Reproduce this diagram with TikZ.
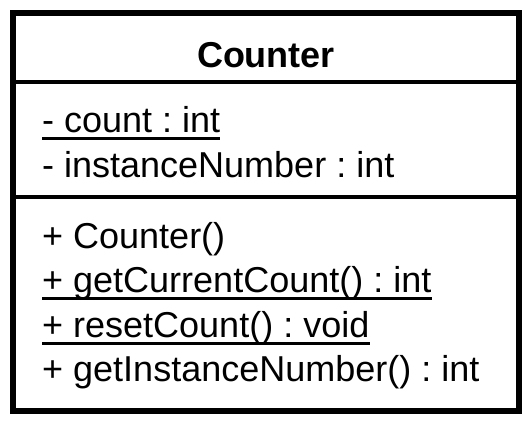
\documentclass[tikz,border=0pt]{standalone}
\usepackage{fontspec}
\setmainfont{Liberation Sans}
\usetikzlibrary{calc}
\frenchspacing

\begin{document}
\begin{tikzpicture}[x=1pt,y=-1pt,
        member/.style={anchor=base west,inner sep=0pt,font=\fontsize{36}{40}\selectfont},
        classname/.style={anchor=base,inner sep=0pt,font=\fontsize{36}{40}\selectfont\bfseries},
        uline/.style={line width=3.2pt}]
        \useasboundingbox (0,0) rectangle (532,426);
        \draw[line width=6pt] (13,13) rectangle (519,411);
        \draw[line width=3.6pt] (13,82) -- (519,82);
        \draw[line width=3.6pt] (13,197) -- (519,197);
        \node[classname] (title) at (266,67) {Counter};
        \foreach \name/\y/\txt in {count/132/- count : int,
            instnum/177/- instanceNumber : int,
            ctor/248/+ Counter(),
            getcur/292/+ getCurrentCount() : int,
            reset/337/+ resetCount() : void,
            getinst/381/+ getInstanceNumber() : int}{
            \node[member] (\name) at (42,\y) {\txt};
        }
        \foreach \name in {count,getcur,reset}{
            \draw[uline] ($(\name.base west)+(0,6.5)$) -- ($(\name.base east)+(0,6.5)$);
        }
    \end{tikzpicture}
\end{document}
